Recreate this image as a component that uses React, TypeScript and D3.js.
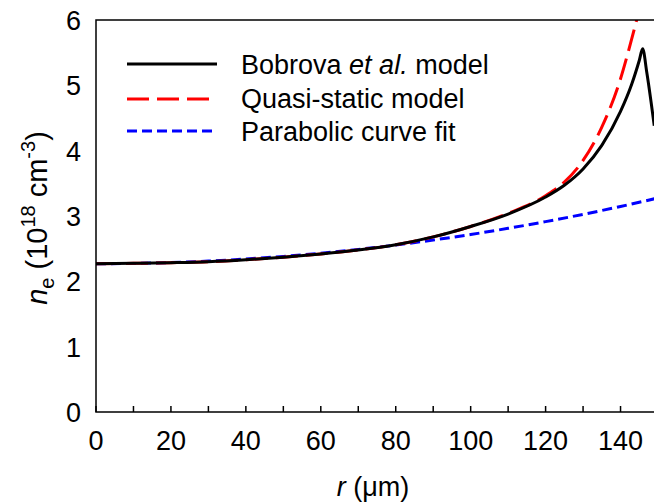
import React from "react";
import * as d3 from "d3";

const bobrovaR = [0, 10, 20, 30, 40, 50, 60, 70, 80, 90, 100, 110, 120, 125, 130, 135, 140, 143, 145, 145.9, 147, 149];
const bobrovaN = [2.27, 2.275, 2.285, 2.3, 2.33, 2.37, 2.42, 2.48, 2.56, 2.68, 2.84, 3.03, 3.29, 3.47, 3.72, 4.08, 4.6, 5.02, 5.38, 5.56, 5.2, 4.38];

const quasiR = [0, 10, 20, 30, 40, 50, 60, 70, 80, 90, 100, 110, 120, 125, 130, 135, 140, 142, 144.3, 146];
const quasiN = [2.27, 2.275, 2.285, 2.3, 2.33, 2.37, 2.42, 2.48, 2.56, 2.68, 2.84, 3.04, 3.31, 3.52, 3.85, 4.36, 5.1, 5.5, 6.0, 6.4];

const paraR = [0, 10, 20, 30, 40, 50, 60, 70, 80, 90, 100, 110, 120, 130, 140, 150];
const paraN = [2.27, 2.274, 2.288, 2.31, 2.342, 2.382, 2.431, 2.489, 2.556, 2.632, 2.717, 2.811, 2.914, 3.025, 3.146, 3.276];

const xTicks = [0, 20, 40, 60, 80, 100, 120, 140];
const xMinor = [10, 30, 50, 70, 90, 110, 130, 150];
const yTicks = [0, 1, 2, 3, 4, 5, 6];

const legendLabels = ["Bobrova", "Quasi-static model", "Parabolic curve fit"];

export default function App() {
  const W = 654, H = 503;
  const left = 96, right = 658, top = 20, bottom = 412;
  const x = d3.scaleLinear().domain([0, 150]).range([left, right]);
  const y = d3.scaleLinear().domain([0, 6]).range([bottom, top]);
  const line = d3.line<[number, number]>().x(d => x(d[0])).y(d => y(d[1])).curve(d3.curveMonotoneX);
  const zip = (a: number[], b: number[]) => a.map((v, i) => [v, b[i]] as [number, number]);
  const font = "Arial, 'Liberation Sans', sans-serif";
  const fs = 27;
  return (
    <svg width={W} height={H} style={{ position: "absolute", left: 0, top: 0, background: "#fff" }} fontFamily={font}>
      <defs>
        <clipPath id="plotclip">
          <rect x={left} y={top} width={right - left} height={bottom - top} />
        </clipPath>
      </defs>
      <rect x={0} y={0} width={W} height={H} fill="#fff" />
      <g clipPath="url(#plotclip)" fill="none">
        <path d={line(zip(paraR, paraN)) || ""} stroke="#0000ff" strokeWidth={3} strokeDasharray="10 5" />
        <path d={line(zip(quasiR, quasiN)) || ""} stroke="#ff0000" strokeWidth={3} strokeDasharray="22 8" />
        <path d={line(zip(bobrovaR, bobrovaN)) || ""} stroke="#000" strokeWidth={3} />
      </g>
      {/* frame */}
      <path d={`M${right},${top}H${left}V${bottom}H${right}`} fill="none" stroke="#000" strokeWidth={1.5} />
      {xTicks.concat(xMinor).map(t => (
        <line key={"t" + t} x1={x(t)} x2={x(t)} y1={bottom} y2={bottom - 6} stroke="#000" strokeWidth={1.5} />
      ))}
      {xTicks.map(t => (
        <text key={"xl" + t} x={x(t)} y={450} textAnchor="middle" fontSize={fs}>{t}</text>
      ))}
      {yTicks.map(t => (
        <text key={"yl" + t} x={81} y={y(t) + 10} textAnchor="end" fontSize={fs}>{t}</text>
      ))}
      <text x={373} y={496} textAnchor="middle" fontSize={fs}>
        <tspan fontStyle="italic">r</tspan> (μm)
      </text>
      <text transform={`translate(47,218) rotate(-90)`} textAnchor="middle" fontSize={29}>
        <tspan fontStyle="italic">n</tspan>
        <tspan fontSize={20} dy={7}>e</tspan>
        <tspan dy={-7}> (10</tspan>
        <tspan fontSize={20} dy={-12}>18</tspan>
        <tspan dy={12}> cm</tspan>
        <tspan fontSize={20} dy={-12}>-3</tspan>
        <tspan dy={12}>)</tspan>
      </text>
      {/* legend */}
      <line x1={127} x2={217} y1={64} y2={64} stroke="#000" strokeWidth={3} />
      <line x1={127} x2={217} y1={99} y2={99} stroke="#ff0000" strokeWidth={3} strokeDasharray="22 8" />
      <line x1={127} x2={217} y1={131} y2={131} stroke="#0000ff" strokeWidth={3} strokeDasharray="10 5" />
      <text x={241} y={74} fontSize={fs}>
        {legendLabels[0]} <tspan fontStyle="italic">et al.</tspan> model
      </text>
      <text x={241} y={108} fontSize={fs}>{legendLabels[1]}</text>
      <text x={241} y={141} fontSize={fs}>{legendLabels[2]}</text>
    </svg>
  );
}
